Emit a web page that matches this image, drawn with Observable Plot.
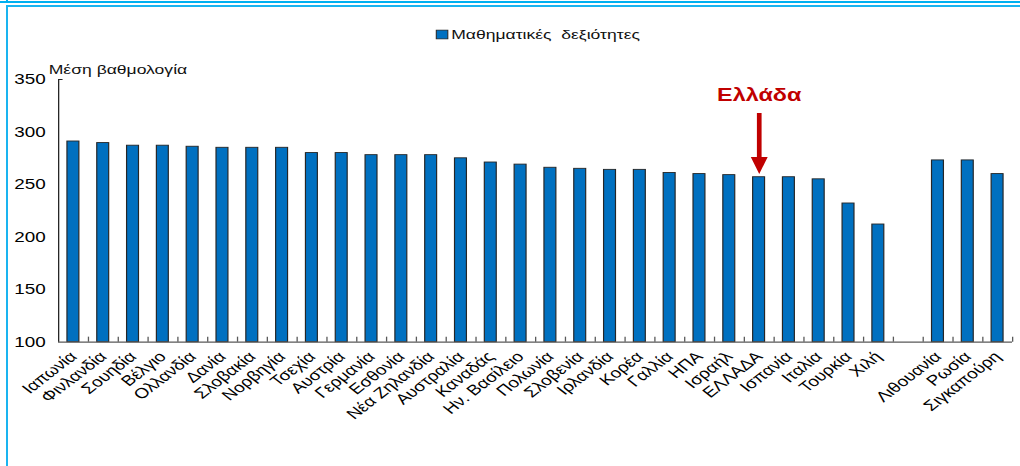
<!DOCTYPE html>
<html><head><meta charset="utf-8">
<script src="https://cdn.jsdelivr.net/npm/d3@7"></script>
<script src="https://cdn.jsdelivr.net/npm/@observablehq/plot@0.6"></script>
<style>
html,body{margin:0;padding:0;background:#fff;}
#wrap{position:relative;width:1020px;height:466px;overflow:hidden;background:#fff;}
#chart svg{display:block;}
.frame1{position:absolute;left:6px;top:-10px;width:1100px;height:11px;border-left:2px solid #00b0f0;border-bottom:2px solid #00b0f0;}
.frame0{position:absolute;left:0;top:1px;width:8px;height:2px;background:#00b0f0;}
.frame2{position:absolute;left:6px;top:5px;width:1100px;height:600px;border-left:2px solid #1ab4f0;border-top:2px solid #1ab4f0;}
</style></head><body>
<div id="wrap"><div id="chart"></div><div class="frame0"></div><div class="frame1"></div><div class="frame2"></div></div>
<script>
// ---- data ----
const categories = ["Ιαπωνία","Φινλανδία","Σουηδία","Βέλγιο","Ολλανδία","Δανία","Σλοβακία","Νορβηγία","Τσεχία","Αυστρία","Γερμανία","Εσθονία","Νέα Ζηλανδία","Αυστραλία","Καναδάς","Ην. Βασίλειο","Πολωνία","Σλοβενία","Ιρλανδία","Κορέα","Γαλλία","ΗΠΑ","Ισραήλ","ΕΛΛΑΔΑ","Ισπανία","Ιταλία","Τουρκία","Χιλή","","Λιθουανία","Ρωσία","Σιγκαπούρη"];
const values = [291,289.5,287,287,286,285,285,285,280,280,278,278,278,275,271,269,266,265,264,264,261,260,259,257,257,255,232,212,null,273,273,260];
const yTicks = [100,150,200,250,300,350];
const seriesName = "Μαθηματικές  δεξιότητες";
const yTitle = "Μέση βαθμολογία";
const highlight = "ΕΛΛΑΔΑ";
const highlightLabel = "Ελλάδα";

// ---- layout ----
const S = 1.3;                 // horizontal stretch of the original picture
const W = 1020 / S, H = 466;
const mL = 58 / S, mR = 8 / S, mT = 79, mB = 124.3;
const step = (W - mL - mR) / categories.length;
const baseline = yTicks[0];

const data = categories.map((c, i) => ({name: c, value: values[i]}));
const bars = data.filter(d => d.value != null);
const greece = data.filter(d => d.name === highlight);

const arrowShape = {
  draw(ctx, l) {
    const sw = 3.6, hw = 13, hl = 17;
    ctx.moveTo(-sw / 2, 0);
    ctx.lineTo(sw / 2, 0);
    ctx.lineTo(sw / 2, -(l - hl));
    ctx.lineTo(hw / 2, -(l - hl));
    ctx.lineTo(0, -l);
    ctx.lineTo(-hw / 2, -(l - hl));
    ctx.lineTo(-sw / 2, -(l - hl));
    ctx.closePath();
  }
};

const chart = Plot.plot({
  width: W, height: H,
  marginLeft: mL, marginRight: mR, marginTop: mT, marginBottom: mB,
  style: {fontFamily: "'Liberation Sans', Arial, sans-serif", color: "#000", background: "#fff"},
  x: {type: "band", domain: categories, paddingInner: 0.6, paddingOuter: 0.3, round: false, label: null},
  y: {domain: [yTicks[0], yTicks[yTicks.length - 1]], label: null},
  marks: [
    Plot.barY(bars, {x: "name", y1: baseline, y2: "value", fill: "#0070C0", stroke: "#262626", strokeWidth: 0.9}),
    Plot.ruleX(categories, {x: d => d, y1: baseline, y2: baseline + 4.8, dx: step / 2, stroke: "#595959"}),
    Plot.ruleY([baseline], {stroke: "#595959", strokeWidth: 1.2}),
    Plot.ruleX([categories[0]], {x: d => d, dx: -step / 2, stroke: "#262626", strokeWidth: 1}),
    Plot.axisY({ticks: yTicks, tickSize: 0, tickPadding: 10, fontSize: 14.5, label: null}),
    Plot.axisY({ticks: [yTicks[yTicks.length - 1]], tickSize: 3.5, dx: 3.5, tickFormat: () => "", stroke: "#262626", label: null}),
    Plot.axisX({tickSize: 0, tickPadding: 12, tickRotate: -45, fontSize: 14.5, label: null}),
    Plot.text([yTitle], {frameAnchor: "top-left", dx: -7.6, dy: -6, textAnchor: "start", lineAnchor: "bottom", fontSize: 13.5, fill: "#111"}),
    Plot.dot([seriesName], {frameAnchor: "top", dx: -72, dy: -45, symbol: "square", r: 5, fill: "#0070C0", stroke: "#262626", strokeWidth: 0.8}),
    Plot.text([seriesName], {frameAnchor: "top", dx: -65, dy: -45, textAnchor: "start", lineAnchor: "middle", fontSize: 13.5, fill: "#111"}),
    Plot.text(greece, {x: "name", y: "value", dy: -76, text: () => highlightLabel, fill: "#c00000", fontWeight: "bold", fontSize: 18, lineAnchor: "bottom"}),
    Plot.vector(greece, {x: "name", y: "value", dy: -3.3, length: 61, rotate: 180, anchor: "end", shape: arrowShape, fill: "#c00000", stroke: "none"})
  ]
});

chart.setAttribute("viewBox", `0 0 ${W} ${H}`);
chart.setAttribute("preserveAspectRatio", "none");
chart.setAttribute("width", 1020);
chart.setAttribute("height", H);
chart.style.width = "1020px";
chart.style.height = H + "px";
chart.style.maxWidth = "none";
document.getElementById("chart").appendChild(chart);
</script>
</body></html>
